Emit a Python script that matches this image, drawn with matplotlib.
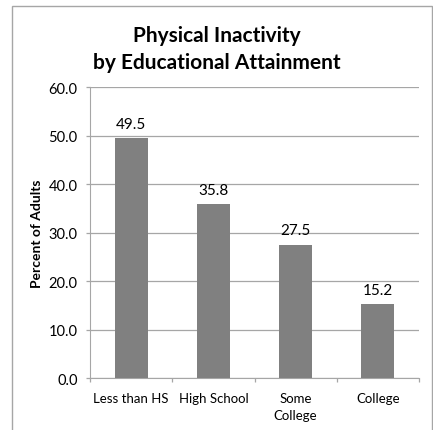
import matplotlib.pyplot as plt
from matplotlib.patches import Rectangle
import numpy as np

plt.rcParams['font.family'] = ['Lato', 'DejaVu Sans']

categories = ["Less than HS", "High School", "Some\nCollege", "College"]
values = [49.5, 35.8, 27.5, 15.2]
yticks = [0, 10, 20, 30, 40, 50, 60]

fig = plt.figure(figsize=(4.33, 4.31), dpi=100)
ax = fig.add_axes([0.2079, 0.1206, 0.7598, 0.6752])

# outer frame of the chart area
fig.patches.append(Rectangle((12 / 433, -0.02), 420 / 433, 1 - 7 / 431 + 0.02,
                             transform=fig.transFigure, fill=False,
                             edgecolor="#a6a6a6", linewidth=1.0))

x = np.arange(len(values))
ax.bar(x, values, width=0.4, color="#808080", zorder=3)
for xi, v in zip(x, values):
    ax.annotate(f"{v:.1f}", (xi, v), xytext=(0, 7.5), textcoords="offset points",
                ha="center", va="baseline", fontsize=11)

ax.set_xlim(-0.5, len(values) - 0.5)
ax.set_ylim(0, 60)
ax.set_yticks(yticks)
ax.set_yticklabels([f"{t:.1f}" for t in yticks], fontsize=10.5)
ax.yaxis.grid(True, color="#a6a6a6", linewidth=0.9, zorder=0)

ax.set_xticks(x)
ax.set_xticklabels(categories, fontsize=9.5, linespacing=1.5)
ax.tick_params(axis="x", length=0, pad=10)
ax.set_xticks(np.arange(-0.5, len(values), 1), minor=True)
ax.tick_params(axis="x", which="minor", length=3, color="#a6a6a6", width=0.9)
ax.tick_params(axis="y", length=3, color="#a6a6a6", width=0.9, pad=6)

for side in ["top", "right"]:
    ax.spines[side].set_visible(False)
ax.spines["left"].set_color("#a6a6a6")
ax.spines["bottom"].set_color("#a6a6a6")

ax.set_ylabel("Percent of Adults", fontsize=10, fontweight="bold", labelpad=4)

fig.text(0.5, 0.885, "Physical Inactivity\nby Educational Attainment",
         ha="center", va="center", fontsize=15, fontweight="bold",
         linespacing=1.4)

plt.savefig("out.png", dpi=100)
